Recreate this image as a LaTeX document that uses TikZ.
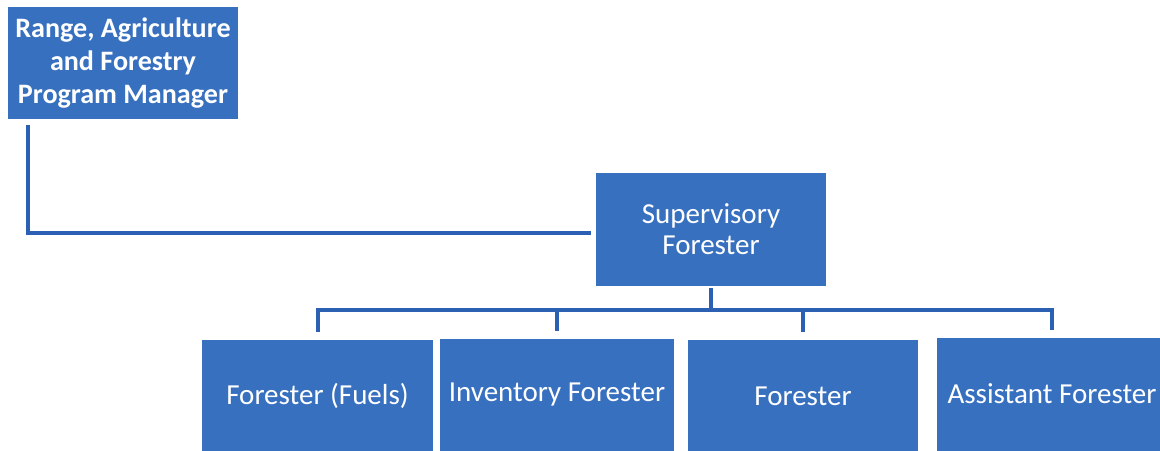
\documentclass[tikz,border=0pt]{standalone}
\usepackage{fontspec}
\setmainfont{Carlito}
\usetikzlibrary{calc}
\definecolor{boxblue}{RGB}{56,112,192}
\definecolor{linkblue}{RGB}{44,96,178}

\begin{document}
\begin{tikzpicture}[x=0.02cm, y=-0.02cm,
    post/.style={rectangle, fill=boxblue, text=white, inner sep=0pt, align=center,
      minimum width=4.6cm, minimum height=2.24cm, font=\fontsize{16.5}{17.6}\selectfont},
    link/.style={draw=linkblue, line width=0.08cm, line cap=rect}]
      \useasboundingbox (0,0) rectangle (1160,450);

      \node[post, font=\fontsize{16}{18.8}\selectfont\bfseries] (mgr) at (123,63) {Range, Agriculture\\and Forestry\\Program Manager};
      \node[post, minimum width=4.62cm, minimum height=2.26cm] (sup) at (711,229.5) {Supervisory\\Forester};

      \node[post, minimum width=4.62cm] (f1) at (317.5,396) {Forester (Fuels)};
      \node[post, minimum width=4.68cm] (f2) at (557,395) {Inventory Forester};
      \node[post] (f3) at (803,396) {Forester};
      \node[post] (f4) at (1052,394) {Assistant Forester};

      % boxes run off the bottom edge
      \foreach \n in {f1,f2,f3,f4}
        \fill[boxblue] ($(\n.south west)+(0,-1)$) rectangle ($(\n.south east)+(0,12)$);

      \coordinate (bar) at (712,310);

      \draw[link] ($(mgr.south west)+(20,8)$) |- ($(sup.west)+(-6,3)$);
      \draw[link] ($(sup.south)+(0,4)$) -- (sup.south |- bar);
      \draw[link] (f1.north |- bar) -- (f4.north |- bar);
      \foreach \n in {f1,f2,f3,f4}
        \draw[link] (\n.north |- bar) -- ($(\n.north)+(0,-10)$);
    \end{tikzpicture}
\end{document}
